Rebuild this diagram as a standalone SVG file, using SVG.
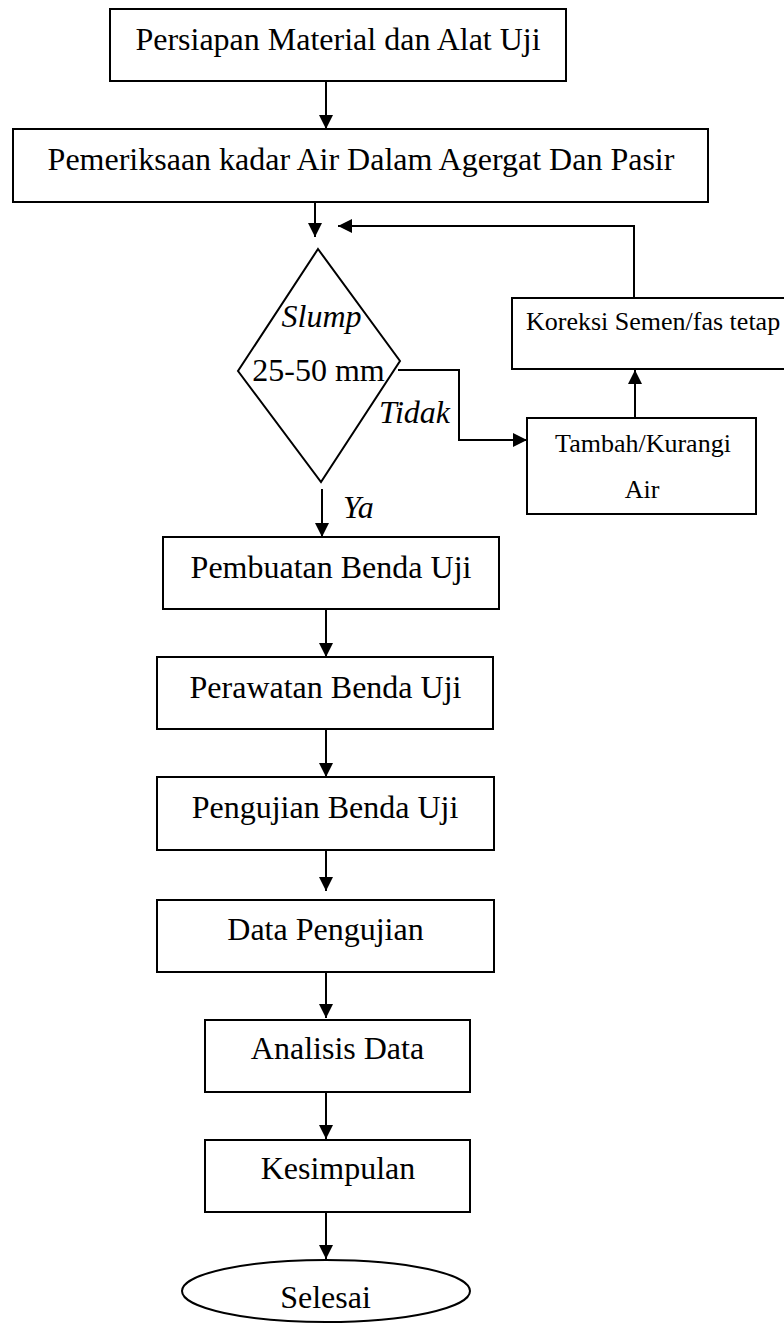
<svg xmlns="http://www.w3.org/2000/svg" width="784" height="1324" viewBox="0 0 784 1324">
<defs>
<style>
.box{fill:#fff;stroke:#000;stroke-width:2}
.t{font-family:"Liberation Serif","Times New Roman",serif;font-size:32px;fill:#000}
.s{font-size:26px}
.i{font-style:italic}
.m{text-anchor:middle}
.c{fill:none;stroke:#000;stroke-width:2}
</style>
<marker id="ah" markerUnits="userSpaceOnUse" markerWidth="14" markerHeight="14" refX="14" refY="7" orient="auto" viewBox="0 0 14 14">
<path d="M0,0 L14,7 L0,14 z" fill="#000"/>
</marker>
</defs>
<rect width="784" height="1324" fill="#fff"/>
<g id="connectors">
<path class="c" d="M326,81 V129" marker-end="url(#ah)"/>
<path class="c" d="M315,202 V237" marker-end="url(#ah)"/>
<path class="c" d="M634,298 V226 H338" marker-end="url(#ah)"/>
<path class="c" d="M398,370 H459 V440 H527" marker-end="url(#ah)"/>
<path class="c" d="M635,418 V370" marker-end="url(#ah)"/>
<path class="c" d="M322,489 V537" marker-end="url(#ah)"/>
<path class="c" d="M326,609 V657" marker-end="url(#ah)"/>
<path class="c" d="M326,729 V777" marker-end="url(#ah)"/>
<path class="c" d="M326,850 V891" marker-end="url(#ah)"/>
<path class="c" d="M326,972 V1018" marker-end="url(#ah)"/>
<path class="c" d="M326,1092 V1139" marker-end="url(#ah)"/>
<path class="c" d="M326,1212 V1259" marker-end="url(#ah)"/>
<text class="t i" x="414.5" y="423" text-anchor="middle">Tidak</text>
<text class="t i" x="343" y="518">Ya</text>
</g>
<g id="n1">
<rect class="box" x="110" y="9" width="456" height="72"/>
<text class="t m" x="338" y="50">Persiapan Material dan Alat Uji</text>
</g>
<g id="n2">
<rect class="box" x="13" y="129" width="695" height="73"/>
<text class="t m" x="361" y="170">Pemeriksaan kadar Air Dalam Agergat Dan Pasir</text>
</g>
<g id="n3">
<polygon class="box" points="318,249 400,361 321,482 238,371"/>
<text class="t i m" x="321.5" y="327">Slump</text>
<text class="t m" x="318.5" y="381">25-50 mm</text>
</g>
<g id="n4">
<rect class="box" x="512" y="298" width="290" height="71"/>
<text class="t s" x="526" y="330">Koreksi Semen/fas tetap</text>
</g>
<g id="n5">
<rect class="box" x="527" y="418" width="229" height="96"/>
<text class="t s m" x="643" y="452">Tambah/Kurangi</text>
<text class="t s m" x="642" y="498">Air</text>
</g>
<g id="n6">
<rect class="box" x="163" y="537" width="336" height="72"/>
<text class="t m" x="331" y="578">Pembuatan Benda Uji</text>
</g>
<g id="n7">
<rect class="box" x="157" y="657" width="336" height="72"/>
<text class="t m" x="325.5" y="698">Perawatan Benda Uji</text>
</g>
<g id="n8">
<rect class="box" x="157" y="777" width="337" height="73"/>
<text class="t m" x="325" y="818">Pengujian Benda Uji</text>
</g>
<g id="n9">
<rect class="box" x="157" y="900" width="337" height="72"/>
<text class="t m" x="325.5" y="940">Data Pengujian</text>
</g>
<g id="n10">
<rect class="box" x="205" y="1020" width="265" height="72"/>
<text class="t m" x="337.5" y="1059">Analisis Data</text>
</g>
<g id="n11">
<rect class="box" x="205" y="1140" width="265" height="72"/>
<text class="t m" x="338" y="1179">Kesimpulan</text>
</g>
<g id="n12">
<ellipse class="box" cx="326" cy="1291" rx="144" ry="31"/>
<text class="t m" x="325.5" y="1308">Selesai</text>
</g>
</svg>
